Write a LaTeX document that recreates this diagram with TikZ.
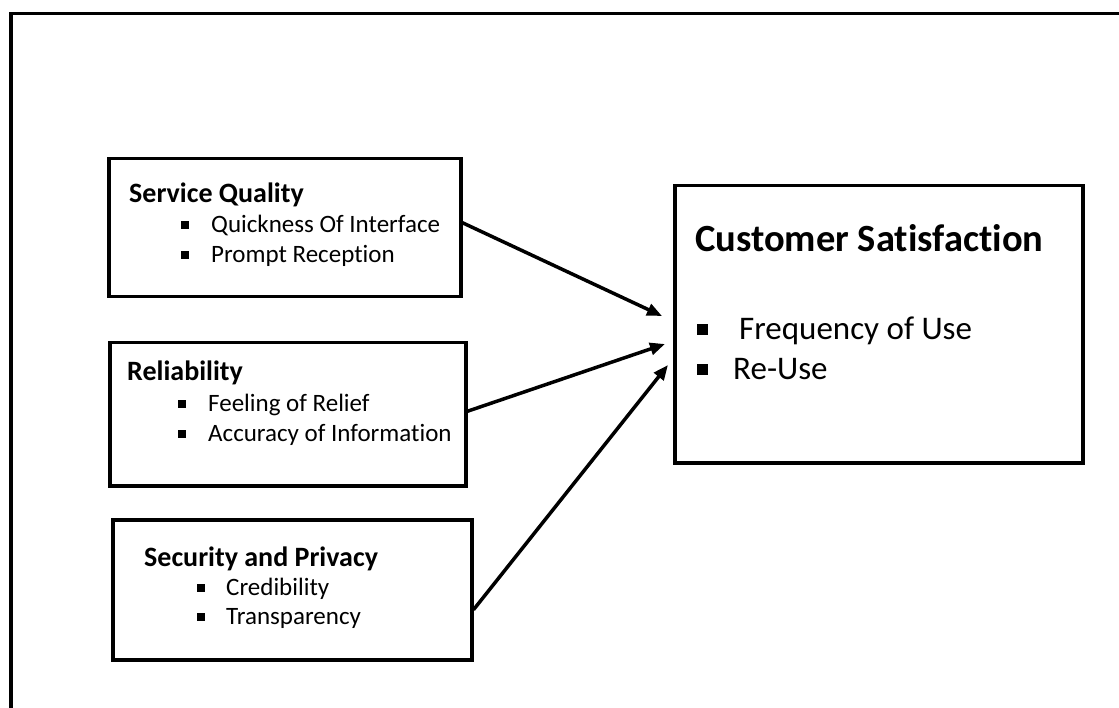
\documentclass[tikz,border=0pt]{standalone}
\usepackage{fontspec}
\setmainfont{Carlito}[Ligatures=NoCommon]
\usetikzlibrary{positioning,arrows.meta}

\tikzset{
  box/.style={draw,line width=3.5pt,anchor=north west,inner sep=0pt},
  head/.style={anchor=base west,inner sep=0pt,font=\fontsize{28}{32}\selectfont\bfseries},
  item/.style={anchor=base west,inner sep=0pt,font=\fontsize{25}{30}\selectfont},
  bighead/.style={head,font=\fontsize{38.5}{44}\selectfont\bfseries},
  bigitem/.style={item,font=\fontsize{33}{38}\selectfont},
  arr/.style={line width=3.5pt,-{Triangle[length=15pt,width=12pt]}},
}
\newcommand{\sqb}{\raisebox{3.5pt}{\rule{8pt}{8pt}}}
\newcommand{\bigsqb}{\raisebox{4.5pt}{\rule{11pt}{11pt}}}

\begin{document}
\begin{tikzpicture}[x=1pt,y=-1pt]
      \clip (0,0) rectangle (1119,708);
      \fill[white] (0,0) rectangle (1119,708);
      % outer frame, runs off the page right and bottom
      \draw[line width=3.5pt] (11,730) |- (1140,13.5);

      % the three factors
      \node[box,minimum width=352pt,minimum height=138pt] (sq) at (107,157) {};
      \node[head] (sqt) at (129,203) {Service Quality};
      \node[item] (sq1) at (181,233) {\sqb\hspace{22pt}Quickness Of Interface};
      \node[item] (sq2) at (181,263) {\sqb\hspace{22pt}Prompt Reception};

      \node[box,minimum width=356pt,minimum height=143pt] (rel) at (108,341) {};
      \node[head] (relt) at (127,381) {Reliability};
      \node[item] (rel1) at (178,411) {\sqb\hspace{22pt}Feeling of Relief};
      \node[item] (rel2) at (178,441) {\sqb\hspace{22pt}Accuracy of Information};

      \node[box,minimum width=359pt,minimum height=140pt] (sec) at (111,518) {};
      \node[head] (sect) at (144,566) {Security and Privacy};
      \node[item] (sec1) at (197,595) {\sqb\hspace{21pt}Credibility};
      \node[item] (sec2) at (197,624) {\sqb\hspace{21pt}Transparency};

      % outcome
      \node[box,minimum width=408pt,minimum height=277pt] (cs) at (673,184) {};
      \node[bighead] (cst) at (695,252) {Customer Satisfaction};
      \node[bigitem] (cs1) at (697,340) {\bigsqb\hspace{31pt}Frequency of Use};
      \node[bigitem] (cs2) at (697,380) {\bigsqb\hspace{25pt}Re-Use};

      % arrow ends just short of the outcome box
      \coordinate (inA) at (662,316);
      \coordinate (inB) at (665,344);
      \coordinate (inC) at (668,365);
      \draw[arr] ([yshift=5pt]sq.east) -- (inA);
      \draw[arr] ([yshift=3pt]rel.east) -- (inB);
      \draw[arr] ([yshift=-20pt]sec.east) -- (inC);
    \end{tikzpicture}
\end{document}
